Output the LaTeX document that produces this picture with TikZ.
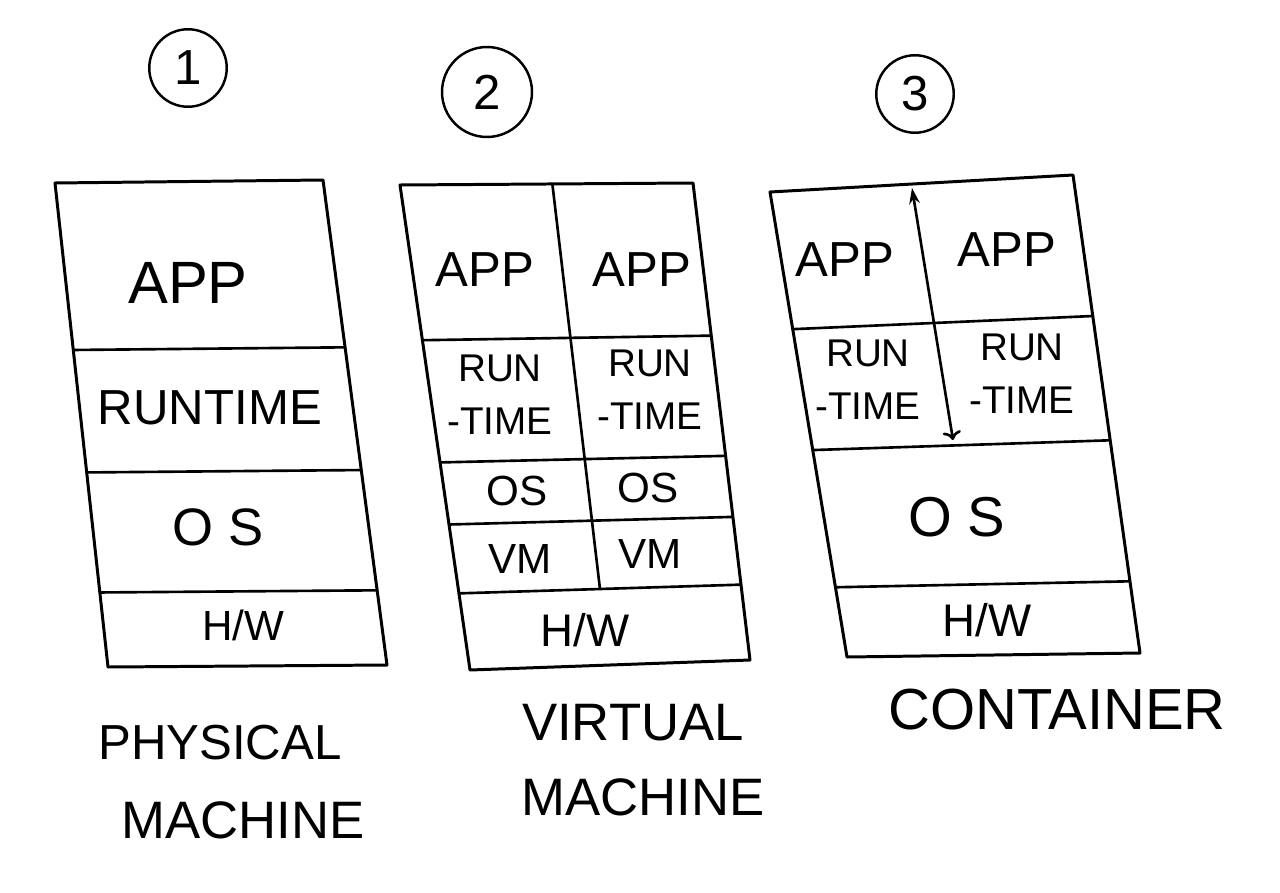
\documentclass[tikz,border=0pt]{standalone}
\usepackage{fontspec}
\setmainfont{Liberation Sans}
\usetikzlibrary{calc,arrows.meta}
\begin{document}
\begin{tikzpicture}[x=0.02cm,y=-0.02cm,
  box/.style={draw=black,line width=1.7pt,line join=round},
  sep/.style={draw=black,line width=1.5pt},
  lbl/.style={inner sep=0pt,align=center},
  num/.style={draw=black,circle,line width=1.4pt,inner sep=0pt,font=\fontsize{28}{30}\selectfont}]
\useasboundingbox[fill=white] (0,0) rectangle (1280,892);
% circled numbers
\node[num,minimum size=1.55cm] (n1) at (188,68) {1};
\node[num,minimum size=1.8cm] (n2) at (487,92) {2};
\node[num,minimum size=1.55cm] (n3) at (915,94) {3};
% ---- Box 1: physical machine
\coordinate (a1) at (55,183); \coordinate (b1) at (323,180);
\coordinate (c1) at (387,665); \coordinate (d1) at (108,667);
\draw[box] (a1) -- (b1) -- (c1) -- (d1) -- cycle;
\foreach \t in {0.345,0.598,0.846}
  \draw[sep] ($(a1)!\t!(d1)$) -- ($(b1)!\t!(c1)$);
\node[lbl,font=\fontsize{34}{36}\selectfont] (app1) at (188,283) {APP};
\node[lbl,font=\fontsize{28}{30}\selectfont] (rt1) at (210,408) {RUNTIME};
\node[lbl,font=\fontsize{30}{32}\selectfont] (os1) at (218,527) {O S};
\node[lbl,font=\fontsize{24}{26}\selectfont] (hw1) at (243,625) {H/W};
% ---- Box 2: virtual machine
\coordinate (a2) at (400,185); \coordinate (b2) at (693,183);
\coordinate (c2) at (750,660); \coordinate (d2) at (470,670);
\draw[box] (a2) -- (b2) -- (c2) -- (d2) -- cycle;
\foreach \t in {0.32,0.572,0.70,0.842}
  \draw[sep] ($(a2)!\t!(d2)$) -- ($(b2)!\t!(c2)$);
\coordinate (h2l) at ($(a2)!0.842!(d2)$); \coordinate (h2r) at ($(b2)!0.842!(c2)$);
\draw[sep] ($(a2)!0.52!(b2)$) -- ($(h2l)!0.5!(h2r)$);
\node[lbl,font=\fontsize{28}{30}\selectfont] (app2a) at (485,270) {APP};
\node[lbl,font=\fontsize{28}{30}\selectfont] (app2b) at (642,270) {APP};
\node[lbl,font=\fontsize{22}{30}\selectfont] (rt2a) at (500,395) {RUN\\-TIME};
\node[lbl,font=\fontsize{22}{30}\selectfont] (rt2b) at (650,390) {RUN\\-TIME};
\node[lbl,font=\fontsize{24}{26}\selectfont] (os2a) at (517,491) {OS};
\node[lbl,font=\fontsize{24}{26}\selectfont] (os2b) at (648,488) {OS};
\node[lbl,font=\fontsize{24}{26}\selectfont] (vm2a) at (520,559) {VM};
\node[lbl,font=\fontsize{24}{26}\selectfont] (vm2b) at (650,554) {VM};
\node[lbl,font=\fontsize{26}{28}\selectfont] (hw2) at (585,630) {H/W};
% ---- Box 3: container
\coordinate (a3) at (770,192); \coordinate (b3) at (1073,175);
\coordinate (c3) at (1140,653); \coordinate (d3) at (847,657);
\draw[box] (a3) -- (b3) -- (c3) -- (d3) -- cycle;
\foreach \t in {0.295,0.555,0.85}
  \draw[sep] ($(a3)!\t!(d3)$) -- ($(b3)!\t!(c3)$);
\coordinate (v3t) at (912,188); \coordinate (v3b) at (953,440);
\draw[sep,{Stealth[length=9pt,width=6pt]}-{To[length=5pt]}] (v3t) -- (v3b);
\node[lbl,font=\fontsize{28}{30}\selectfont] (app3a) at (845,260) {APP};
\node[lbl,font=\fontsize{28}{30}\selectfont] (app3b) at (1007,250) {APP};
\node[lbl,font=\fontsize{22}{30}\selectfont] (rt3a) at (868,380) {RUN\\-TIME};
\node[lbl,font=\fontsize{22}{30}\selectfont] (rt3b) at (1022,374) {RUN\\-TIME};
\node[lbl,font=\fontsize{32}{34}\selectfont] (os3) at (957,517) {O S};
\node[lbl,font=\fontsize{26}{28}\selectfont] (hw3) at (987,620) {H/W};
% ---- captions
\node[lbl,font=\fontsize{28}{40}\selectfont] (cap1a) at (220,743) {PHYSICAL};
\node[lbl,font=\fontsize{30}{40}\selectfont] (cap1b) at (243,820) {MACHINE};
\node[lbl,font=\fontsize{30}{40}\selectfont] (cap2a) at (633,723) {VIRTUAL};
\node[lbl,font=\fontsize{30}{40}\selectfont] (cap2b) at (643,797) {MACHINE};
\node[lbl,font=\fontsize{33}{36}\selectfont] (cap3) at (1057,710) {CONTAINER};
\end{tikzpicture}
\end{document}
